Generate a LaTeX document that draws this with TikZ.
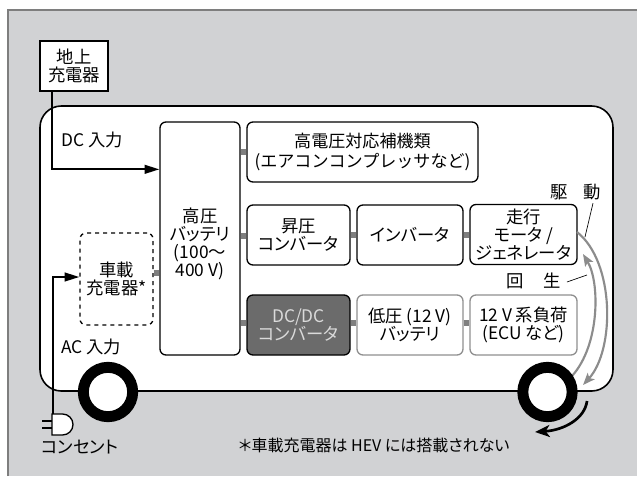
\documentclass[tikz,border=0pt]{standalone}
\usepackage{fontspec}
\setmainfont[RawFeature=+palt]{Noto Sans CJK JP}
\newfontfamily\widekana{Noto Sans CJK JP}
\usetikzlibrary{arrows.meta,calc}
\definecolor{panel}{HTML}{D1D2D4}
\definecolor{panelrule}{HTML}{7E7E7E}
\definecolor{stubgray}{HTML}{7F7F7F}
\definecolor{arcgray}{HTML}{8C8C8C}
\definecolor{softrule}{HTML}{8F8F8F}
\definecolor{darkfill}{HTML}{6B6B6B}
\definecolor{lighttext}{HTML}{DADADA}
\begin{document}
\begin{tikzpicture}[x=0.75pt,y=-0.75pt,
  txt/.style={font=\fontsize{13}{13.3}\selectfont},
  box/.style={txt, draw, line width=1pt, rounded corners=4.5pt, fill=white,
    align=center, inner sep=0pt, minimum height=45pt},
  softbox/.style={box, draw=softrule},
  darkbox/.style={box, fill=darkfill, text=lighttext},
  stub/.style={draw=stubgray, line width=4.5pt},
  conn/.style={line width=1.5pt, -{Triangle[length=11pt,width=6.5pt]}},
  turn/.style={draw=arcgray, line width=1.6pt, -{Stealth[length=9pt,width=7pt,inset=2pt]}},
  leader/.style={line width=0.5pt},
  lbl/.style={txt, inner sep=0pt},
  wheel/.style={line width=8.2pt, fill=white}
]
\useasboundingbox (0,0) rectangle (637,476);

% background panel
\fill[panel] (8,10) rectangle (637,476);
\draw[panelrule, line width=1pt] (8,476) -- (8,10) -- (637,10);

% vehicle body
\draw[line width=1.2pt, fill=white, rounded corners=16pt] (40,106) rectangle (613,391);

% ground charger
\node[txt, font=\fontsize{13}{13.5}\selectfont, draw, line width=1pt, fill=white, align=center, inner sep=0pt,
  minimum width=51pt, minimum height=37.5pt] (gc) at (74,66) {地上\\充電器};

% high-voltage battery
\node[box, minimum width=60pt, minimum height=174.75pt,
  label={[txt, align=center, yshift=-4pt]center:高圧\\バッテリ\\(100～\\400 V)}] (bat) at (200,238.5) {};

% on-board charger
\node[box, dashed, minimum width=54.75pt, minimum height=69pt] (onb) at (116.5,279) {車載\\充電器*};

% right-hand blocks
\node[box, minimum width=173.25pt, font=\widekana\fontsize{12.8}{15}\selectfont] (aux) at (362.5,152) {高電圧対応補機類\\(エアコンコンプレッサなど)};
\node[box, minimum width=77.25pt] (boost) at (298.5,235) {昇圧\\コンバータ};
\node[box, minimum width=79.5pt] (inv) at (410,235) {インバータ};
\node[box, minimum width=80.25pt] (mg) at (523.5,234.5) {走行\\モータ /\\ジェネレータ};
\node[darkbox, minimum width=77.25pt] (dcdc) at (298.5,325) {DC/DC\\コンバータ};
\node[softbox, minimum width=79.5pt] (lvb) at (410,325) {低圧 (12 V)\\バッテリ};
\node[softbox, minimum width=80.25pt] (load) at (523.5,325) {12 V 系負荷\\(ECU など)};

% short links between blocks
\draw[stub] (aux.west) -- (aux.west -| bat.east);
\draw[stub] ([yshift=-0.4pt]boost.west) -- ([yshift=-0.4pt]boost.west -| bat.east);
\draw[stub] ([yshift=1.2pt]dcdc.west) -- ([yshift=1.2pt]dcdc.west -| bat.east);
\draw[stub] ([yshift=4.5pt]onb.east) -- ([yshift=4.5pt]onb.east -| bat.west);
\draw[stub] (boost.east) -- (inv.west);
\draw[stub] (inv.east) -- (mg.west |- inv.east);
\draw[stub] ([yshift=1.2pt]dcdc.east) -- ([yshift=1.2pt]lvb.west);
\draw[stub] ([yshift=1.2pt]lvb.east) -- ([yshift=1.2pt]load.west);

% charging inputs
\coordinate (plug) at (53,414);
\draw[conn] ([xshift=9.75pt]gc.south west) |- ([yshift=-36pt]bat.north west);
\draw[conn] (plug) |- ([yshift=1.5pt]onb.west);
\node[lbl, anchor=west] (dcin) at (61,140) {DC 入力};
\node[lbl, anchor=west] (acin) at (61,347) {AC 入力};

% outlet plug
\draw[line width=1pt, fill=white] (52,414) -- (62.5,414)
  arc[start angle=90, end angle=-90, radius=7.875pt] -- (52,435) -- cycle;
\draw[line width=1pt] (42,421) -- (52,421) (42,428) -- (52,428);
\node[lbl] (outlet) at (80,447) {コンセント};

% drive / regeneration arrows
\draw[turn] (577,232) .. controls (615,262) and (615,350) .. (583,385);
\draw[turn] (572,376) .. controls (600,345) and (600,282) .. (583,254);
\node[lbl] (lblku) at (559,192) {駆};
\node[lbl] (lbldo) at (592,192) {動};
\node[lbl] (lblkai) at (515,281) {回};
\node[lbl] (lblsei) at (552,281) {生};
\draw[leader] ($(lbldo.south)+(1,3)$) -- (585,237);
\coordinate (regen) at (587,275);
\draw[leader] ($(lblsei.east)+(6,1)$) -- (regen);

% wheels
\draw[wheel] (108,392) circle[radius=18.5pt];
\draw[wheel] (547.5,392) circle[radius=18.5pt];
\draw[line width=2pt, -{Stealth[length=11pt,width=9pt,inset=3pt]}]
  (587,401) .. controls (585,418) and (565,430) .. (535,432);

% footnote
\node[lbl, font=\fontsize{12}{13}\selectfont] (note) at (374,445) {＊車載充電器は HEV には搭載されない};
\end{tikzpicture}
\end{document}
